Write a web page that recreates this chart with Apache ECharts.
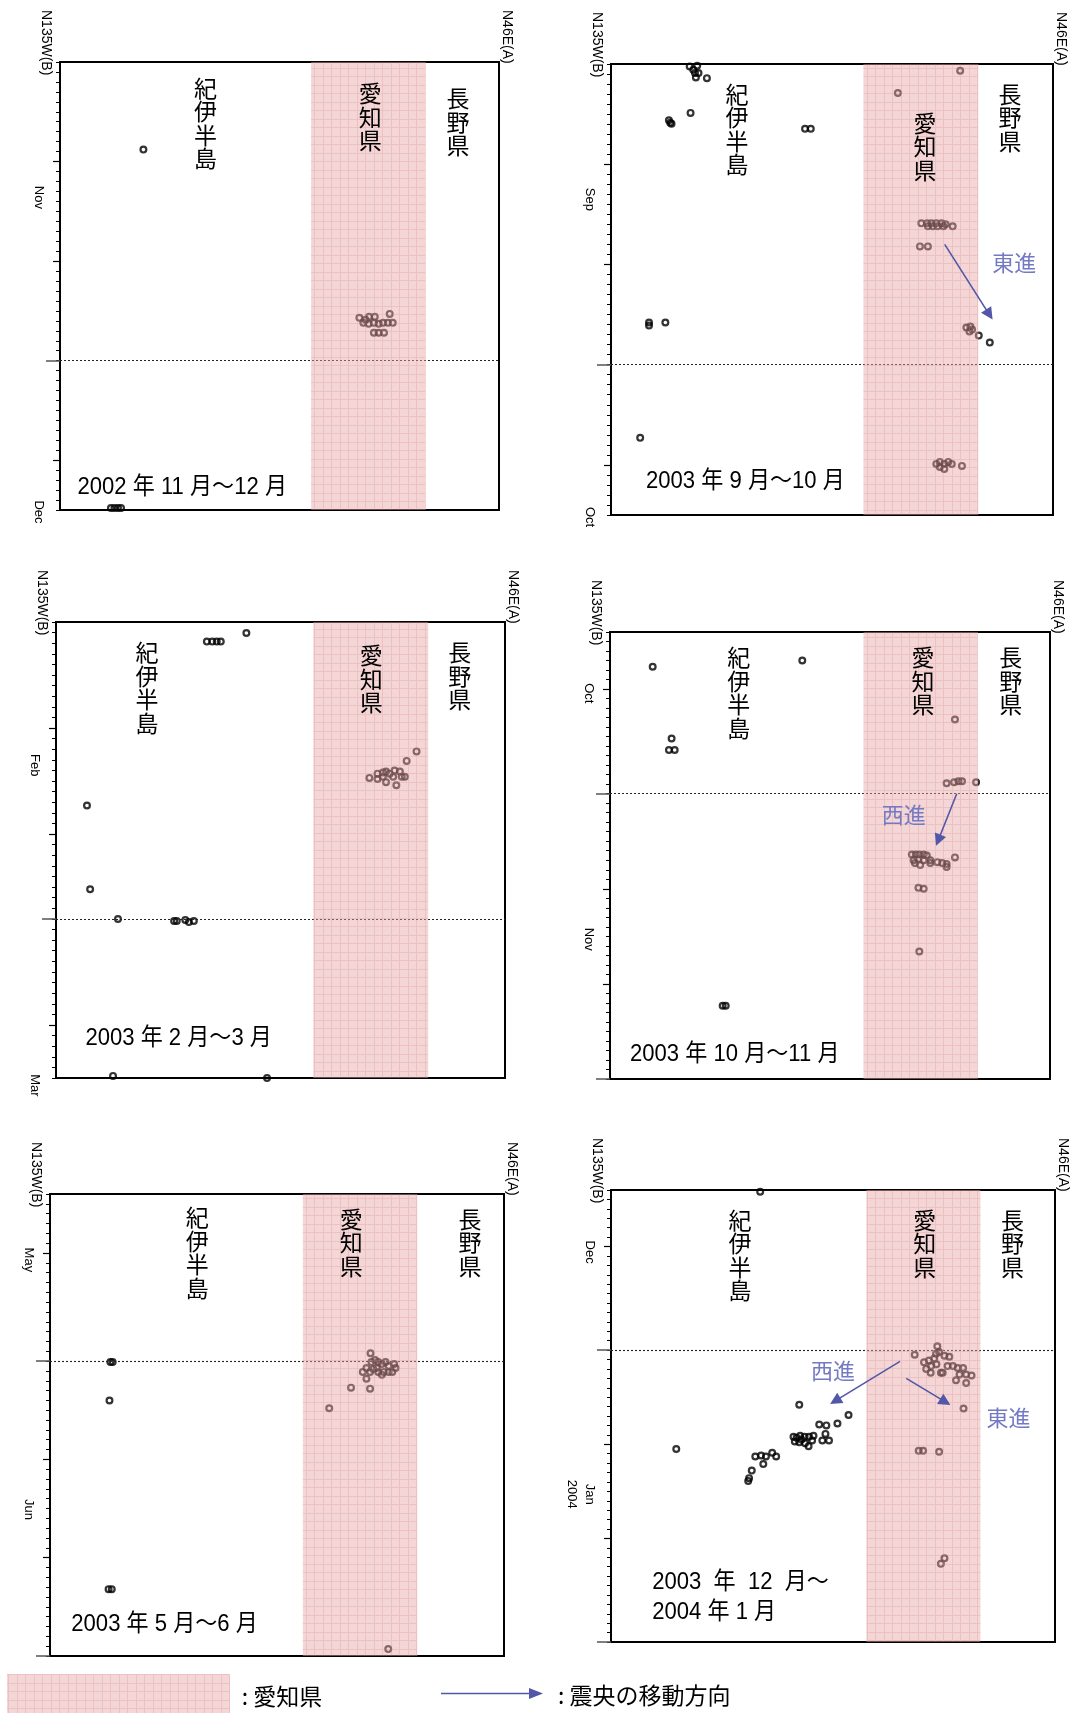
<!DOCTYPE html>
<html>
<head>
<meta charset="utf-8">
<script src="https://cdn.jsdelivr.net/npm/echarts@6/dist/echarts.min.js"></script>
<style>
html,body{margin:0;padding:0;background:#fff;}
#c{width:1073px;height:1713px;}
</style>
</head>
<body>
<div id="c"></div>
<script>
// ---------------- DATA ----------------
// x: position along the section from N135W(B) (0) to N46E(A) (100)
// y: days since the first date shown at the top of each panel
const panelTitles = ['2002 年 11 月～12 月', '2003 年 9 月～10 月', '2003 年 2 月～3 月',
                     '2003 年 10 月～11 月', '2003 年 5 月～6 月', '2003  年  12  月～\n2004 年 1 月'];
const regionNames = ['紀伊半島', '愛知県', '長野県'];
const axisEndLabels = ['N135W(B)', 'N46E(A)'];
const daySpan = [45, 45, 43, 47, 47, 48];
const monthBoundary = [30, 30, 28, 17, 17, 17];
const majorTickDays = [[10, 20, 40], [10, 20, 40], [10, 20, 38], [6, 27, 37], [6, 27, 37], [6, 27, 37]];
const longTickDays = [[30], [30], [28], [17, 47], [17, 47], [17, 48]];
const monthLabels = [
  [['Nov', 13.6], ['Dec', 45.2]],
  [['Sep', 13.5], ['Oct', 45.2]],
  [['Feb', 13.5], ['Mar', 43.7]],
  [['Oct', 6.45], ['Nov', 32.3]],
  [['May', 6.7], ['Jun', 32.1]],
  [['Dec', 6.6], ['Jan\n2004', 32.3]]
];
const aichiBand = [[57.2, 83.3], [57.1, 83.1], [57.3, 82.9], [57.6, 83.6], [55.7, 80.9], [57.5, 83.2]];

const nov2002 = [
  [19.0, 8.8],
  [68.2, 25.7], [69.6, 25.9], [70.4, 25.6], [71.7, 25.6], [69.1, 26.2], [70.3, 26.3], [71.5, 26.2],
  [72.6, 26.3], [73.6, 26.2], [74.7, 26.2], [75.8, 26.2], [75.1, 25.3], [71.5, 27.2], [72.6, 27.2], [73.8, 27.2],
  [11.6, 44.8], [12.4, 44.8], [13.2, 44.8], [13.9, 44.8]
];
const sep2003 = [
  [17.8, 0.24], [18.6, 0.57], [19.0, 0.91], [19.5, 0.17], [19.2, 1.35], [19.8, 0.91], [21.7, 1.41],
  [18.0, 4.88], [13.1, 5.62], [13.4, 5.86], [13.7, 5.96], [43.9, 6.47], [45.2, 6.47],
  [64.9, 2.90], [79.0, 0.67],
  [8.6, 25.8], [8.6, 26.1], [12.3, 25.8],
  [70.2, 15.9], [71.5, 15.9], [72.5, 15.9], [73.6, 15.9], [74.8, 15.9], [75.7, 16.0], [71.7, 16.2],
  [72.8, 16.2], [73.9, 16.2], [75.2, 16.2], [77.3, 16.2],
  [69.9, 18.2], [71.7, 18.2],
  [80.4, 26.3], [81.3, 26.2], [81.7, 26.5], [81.1, 26.7], [83.2, 27.1], [85.7, 27.8],
  [6.6, 37.3],
  [73.6, 39.9], [74.4, 39.7], [75.4, 39.9], [76.3, 39.7], [77.1, 39.9], [74.4, 40.2], [75.4, 40.4], [79.4, 40.1]
];
const feb2003 = [
  [33.6, 1.85], [34.8, 1.85], [35.8, 1.85], [36.7, 1.85], [42.4, 1.04],
  [6.9, 17.3], [7.6, 25.2], [13.8, 28.0],
  [26.3, 28.2], [26.9, 28.2], [28.8, 28.1], [29.6, 28.3], [30.7, 28.2],
  [12.7, 42.8], [47.0, 43.0],
  [69.8, 14.7], [71.6, 14.3], [72.8, 14.2], [73.5, 14.1], [74.3, 14.3], [75.4, 14.0], [76.6, 14.1],
  [77.7, 14.6], [78.1, 13.1], [80.3, 12.2], [73.5, 15.1], [75.8, 15.4], [71.6, 14.8], [75.1, 14.6],
  [77.0, 14.6], [72.8, 14.6]
];
const oct2003 = [
  [9.7, 3.65], [43.7, 3.0], [14.0, 11.2], [13.4, 12.4], [14.7, 12.4],
  [78.4, 9.2],
  [76.5, 15.9], [78.2, 15.8], [79.2, 15.7], [80.0, 15.7], [83.2, 15.8],
  [68.6, 23.4], [69.5, 23.4], [70.3, 23.4], [71.3, 23.4], [72.0, 23.5], [69.0, 24.0], [70.1, 23.9],
  [71.3, 24.0], [72.8, 24.0], [74.4, 24.2], [75.5, 24.3], [76.5, 24.4], [78.4, 23.7], [70.5, 24.5],
  [72.8, 24.3], [76.5, 24.7], [69.3, 24.3],
  [70.1, 26.9], [71.3, 27.0], [70.3, 33.6],
  [25.6, 39.3], [26.3, 39.3]
];
const may2003 = [
  [13.3, 17.1], [13.8, 17.1], [13.1, 21.0], [12.9, 40.2], [13.6, 40.2],
  [61.5, 21.8], [66.3, 19.7], [70.5, 19.8], [69.7, 18.8], [70.6, 16.2],
  [68.9, 18.1], [69.7, 17.7], [70.8, 17.1], [71.6, 16.9], [72.3, 17.1], [73.1, 17.3], [73.9, 17.1],
  [74.6, 17.5], [75.8, 17.3], [76.1, 17.7], [71.2, 17.8], [72.3, 18.1], [73.5, 18.1], [74.6, 18.1],
  [75.4, 18.1], [70.5, 18.1], [72.0, 17.7], [73.1, 18.4],
  [74.5, 46.3]
];
const dec2003 = [
  [33.6, 0.19], [14.7, 27.5], [42.4, 22.8], [53.5, 23.9], [51.0, 24.8], [46.9, 24.9], [48.5, 25.0],
  [48.3, 25.9], [47.6, 26.6], [49.1, 26.6],
  [41.1, 26.2], [41.8, 26.3], [42.6, 26.1], [43.6, 26.2], [44.6, 26.2], [45.6, 26.1], [41.4, 26.7],
  [42.4, 26.8], [43.7, 26.9], [44.5, 27.2], [45.3, 26.6], [42.9, 26.5],
  [32.5, 28.3], [33.8, 28.2], [34.9, 28.3], [36.3, 27.9], [37.2, 28.3], [34.3, 29.1],
  [31.7, 29.8], [31.1, 30.6], [30.9, 30.9],
  [68.4, 17.5], [73.5, 16.6],
  [70.5, 18.3], [71.6, 18.1], [72.8, 17.9], [73.9, 17.2], [75.1, 17.6], [76.2, 17.7], [71.0, 19.0],
  [72.1, 18.7], [73.3, 18.5], [74.7, 19.4], [75.8, 18.7], [77.0, 18.7], [78.1, 18.9], [79.3, 18.9],
  [78.5, 19.6], [80.0, 19.6], [81.2, 19.7], [77.7, 20.2], [80.0, 20.5], [73.2, 17.4], [74.3, 19.4], [72.0, 19.4],
  [79.4, 23.2], [69.3, 27.7], [70.3, 27.7], [73.9, 27.8],
  [74.3, 39.7], [75.1, 39.1]
];
const panelPoints = [nov2002, sep2003, feb2003, oct2003, may2003, dec2003];
// migration arrows [from, to, label]
const migrationArrows = [
  [],
  [[[75.5, 18.0], [85.6, 25.0], '東進']],
  [],
  [[[78.8, 17.0], [74.6, 21.9], '西進']],
  [],
  [[[65.1, 18.2], [50.5, 22.4], '西進'], [[66.5, 20.0], [75.3, 22.5], '東進']]
];
const legendTexts = [': 愛知県', ': 震央の移動方向'];

// ---------------- LAYOUT / STYLE ----------------
const boxes = [
  {l: 60, t: 62, r: 499, b: 510},
  {l: 611, t: 64, r: 1053, b: 515},
  {l: 56, t: 622, r: 505, b: 1078},
  {l: 610, t: 632, r: 1050, b: 1079},
  {l: 50, t: 1194, r: 504, b: 1656},
  {l: 611, t: 1190, r: 1055, b: 1642}
];
const regionPos = [
  [[205.6, 78.4], [370.2, 83.8], [458, 88.6]],
  [[737.1, 84.5], [925.1, 113.3], [1010.1, 84.5]],
  [[147, 643], [371.2, 645.7], [459.7, 643]],
  [[738.8, 648], [923, 648], [1010.8, 648]],
  [[197.3, 1207.7], [351.2, 1209.4], [470, 1209.4]],
  [[739.9, 1210.5], [924.8, 1210.5], [1012.5, 1210.5]]
];
const titlePos = [[77.5, 487], [646, 481.7], [85.4, 1038], [630, 1054.5], [71.3, 1624], [652.2, 1597]];
const arrowLabelPos = [[], [[1014.2, 263]], [], [[903.7, 815]], [], [[833, 1370.8], [1008.4, 1417.4]]];

const CJK = '"Noto Sans CJK JP", "Noto Sans CJK SC", sans-serif';
const LAT = '"Liberation Sans", Arial, sans-serif';
const NARROW = '"Liberation Sans Narrow", "Liberation Sans", "Noto Sans CJK JP", sans-serif';
const ARROW_COLOR = '#5257a8';
const ARROW_TEXT = '#7479c4';

function makePattern() {
  const c = document.createElement('canvas');
  c.width = 17; c.height = 17;
  const ctx = c.getContext('2d');
  ctx.fillStyle = 'rgba(231,166,166,0.46)';
  ctx.fillRect(0, 0, 17, 17);
  ctx.fillStyle = 'rgba(215,120,120,0.22)';
  ctx.fillRect(0, 0, 17, 1); ctx.fillRect(0, 8, 17, 1);
  ctx.fillRect(0, 1, 1, 7); ctx.fillRect(0, 9, 1, 8);
  ctx.fillRect(8, 1, 1, 7); ctx.fillRect(8, 9, 1, 8);
  return c;
}
const patternCanvas = makePattern();
const bandFill = {image: patternCanvas, repeat: 'repeat'};

const chart = echarts.init(document.getElementById('c'), null, {renderer: 'canvas', width: 1073, height: 1713});

const option = {animation: false, backgroundColor: '#fff', grid: [], xAxis: [], yAxis: [], series: []};

for (let i = 0; i < 6; i++) {
  const b = boxes[i];
  option.grid.push({left: b.l, top: b.t, width: b.r - b.l, height: b.b - b.t, show: true,
    borderColor: '#000', borderWidth: 2, backgroundColor: 'rgba(0,0,0,0)', containLabel: false, outerBoundsMode: 'none'});
  option.xAxis.push({gridIndex: i, type: 'value', min: 0, max: 100, show: false});
  option.yAxis.push({gridIndex: i, type: 'value', min: 0, max: daySpan[i], interval: 1, inverse: true, position: 'left',
    axisLine: {show: true, onZero: false, lineStyle: {color: '#000', width: 2}},
    axisTick: {show: true, length: 4, lineStyle: {color: '#000', width: 1}},
    axisLabel: {show: false}, splitLine: {show: false}});
  option.yAxis.push({gridIndex: i, type: 'value', min: 0, max: daySpan[i], inverse: true, position: 'left',
    axisLine: {show: false, onZero: false},
    axisTick: {show: true, length: 7, customValues: majorTickDays[i], lineStyle: {color: '#000', width: 1.2}},
    axisLabel: {show: false}, splitLine: {show: false}});
  option.yAxis.push({gridIndex: i, type: 'value', min: 0, max: daySpan[i], inverse: true, position: 'left',
    axisLine: {show: false, onZero: false},
    axisTick: {show: true, length: 14, customValues: longTickDays[i], lineStyle: {color: '#555', width: 1.5}},
    axisLabel: {show: false}, splitLine: {show: false}});

  option.series.push({type: 'scatter', xAxisIndex: i, yAxisIndex: 3 * i, data: panelPoints[i], symbol: 'circle',
    symbolSize: 5.8, clip: false, silent: true, z: 2,
    itemStyle: {color: 'rgba(0,0,0,0)', borderColor: '#000', borderWidth: 2.2},
    markLine: {silent: true, symbol: 'none', label: {show: false}, animation: false, z: 3,
      lineStyle: {type: [2, 2], color: '#222', width: 1.1}, data: [{yAxis: monthBoundary[i]}]}});
  option.series.push({type: 'line', xAxisIndex: i, yAxisIndex: 3 * i, data: [], z: 20, silent: true,
    markArea: {silent: true, z: 20, label: {show: false}, itemStyle: {color: bandFill},
      data: [[{xAxis: aichiBand[i][0], yAxis: 0}, {xAxis: aichiBand[i][1], yAxis: daySpan[i]}]]}});
  if (migrationArrows[i].length) {
    option.series.push({type: 'line', xAxisIndex: i, yAxisIndex: 3 * i, data: [], z: 30, silent: true,
      markLine: {silent: true, z: 30, symbol: ['none', 'triangle'], symbolSize: 12, label: {show: false}, animation: false,
        lineStyle: {color: ARROW_COLOR, width: 1.6, type: 'solid'},
        data: migrationArrows[i].map(a => [{coord: a[0]}, {coord: a[1]}])}});
  }
}
chart.setOption(option);

// ---------------- TEXT / ANNOTATIONS ----------------
const g = [];
function text(x, y, str, style, extra) {
  g.push(Object.assign({type: 'text', x: x, y: y, silent: true, z: 100,
    style: Object.assign({text: str, fill: '#000'}, style)}, extra || {}));
}
for (let i = 0; i < 6; i++) {
  const b = boxes[i];
  // axis end labels
  text(b.l - 14.5, b.t - 52, axisEndLabels[0], {font: '14px ' + LAT, align: 'left', verticalAlign: 'middle'}, {rotation: -Math.PI / 2});
  text(b.r + 7.5, b.t - 52, axisEndLabels[1], {font: '14px ' + LAT, align: 'left', verticalAlign: 'middle'}, {rotation: -Math.PI / 2});
  // month labels (positioned with the y scale)
  monthLabels[i].forEach(function (m) {
    const py = chart.convertToPixel({yAxisIndex: 3 * i}, m[1]);
    const lines = m[0].split('\n').length;
    text(b.l - 21 - (lines - 1) * 9, py, m[0], {font: '13px ' + LAT, align: 'center', verticalAlign: 'middle', lineHeight: 18},
      {rotation: -Math.PI / 2});
  });
  // region names (vertical)
  regionNames.forEach(function (n, k) {
    const p = regionPos[i][k];
    text(p[0], p[1] - 2, n.split('').join('\n'), {font: '23px ' + CJK, align: 'center', verticalAlign: 'top', lineHeight: 23.5});
  });
  // panel title
  text(titlePos[i][0], titlePos[i][1], panelTitles[i], {font: '24px ' + NARROW, align: 'left', verticalAlign: 'middle', lineHeight: 30},
    {scaleX: 0.92});
  // arrow labels
  migrationArrows[i].forEach(function (a, k) {
    const p = arrowLabelPos[i][k];
    text(p[0], p[1], a[2], {font: '22px ' + CJK, fill: ARROW_TEXT, align: 'center', verticalAlign: 'middle'});
  });
}
// legend
g.push({type: 'rect', silent: true, z: 100, shape: {x: 7, y: 1674, width: 223, height: 39}, style: {fill: bandFill}});
text(241.7, 1696.7, legendTexts[0], {font: '23px ' + CJK, align: 'left', verticalAlign: 'middle'});
g.push({type: 'line', silent: true, z: 100, shape: {x1: 441, y1: 1693.5, x2: 531, y2: 1693.5}, style: {stroke: ARROW_COLOR, lineWidth: 1.6}});
g.push({type: 'polygon', silent: true, z: 100, shape: {points: [[529, 1688], [543, 1693.5], [529, 1699]]}, style: {fill: ARROW_COLOR}});
text(558, 1695, legendTexts[1], {font: '23px ' + CJK, align: 'left', verticalAlign: 'middle'});

chart.setOption({graphic: g});
</script>
</body>
</html>
